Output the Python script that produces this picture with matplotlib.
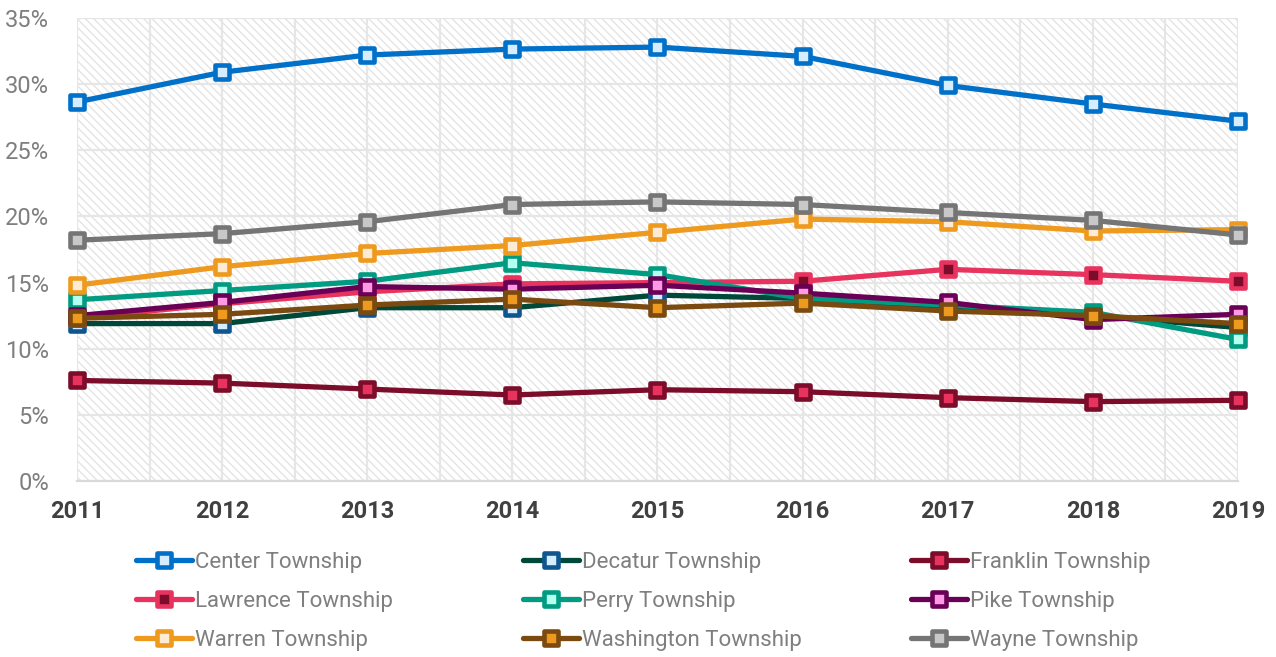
import matplotlib
matplotlib.use("Agg")
import matplotlib.pyplot as plt
from matplotlib.markers import MarkerStyle
from matplotlib.lines import Line2D
from matplotlib.ticker import FuncFormatter, MultipleLocator

# данные
years = ["2011", "2012", "2013", "2014", "2015", "2016", "2017", "2018", "2019"]

center = [28.65, 30.9, 32.2, 32.65, 32.8, 32.1, 29.9, 28.5, 27.2]
decatur = [11.9, 11.9, 13.1, 13.1, 14.05, 13.8, 13.15, 12.5, 11.6]
franklin = [7.6, 7.4, 6.95, 6.5, 6.9, 6.75, 6.3, 6.0, 6.1]
lawrence = [12.3, 13.4, 14.3, 14.9, 15.0, 15.1, 16.0, 15.6, 15.1]
perry = [13.7, 14.4, 15.1, 16.5, 15.6, 13.8, 13.3, 12.75, 10.7]
pike = [12.5, 13.5, 14.7, 14.5, 14.8, 14.2, 13.5, 12.2, 12.6]
warren = [14.8, 16.2, 17.2, 17.8, 18.8, 19.8, 19.6, 18.9, 19.0]
washington = [12.3, 12.6, 13.3, 13.75, 13.1, 13.45, 12.85, 12.5, 11.9]
wayne = [18.2, 18.7, 19.6, 20.9, 21.1, 20.9, 20.3, 19.7, 18.6]

names = ["Center Township", "Decatur Township", "Franklin Township",
         "Lawrence Township", "Perry Township", "Pike Township",
         "Warren Township", "Washington Township", "Wayne Township"]
series = [center, decatur, franklin, lawrence, perry, pike, warren, washington, wayne]

# цвета: линия, край маркера, заливка маркера
line_colors = ["#0070C8", "#00483A", "#7B0C2A", "#E8335E", "#009B80",
               "#6A0055", "#EE9A1E", "#7A4A10", "#757575"]
edge_colors = ["#0070C8", "#0F5690", "#7B0C2A", "#E8335E", "#009B80",
               "#6A0055", "#EE9A1E", "#7A4A10", "#757575"]
fill_colors = ["#D6ECFF", "#D6ECFF", "#E8335E", "#7B0C2A", "#B5FFF0",
               "#FF99E6", "#FDEBD6", "#EE9A1E", "#C8C8C8"]

plt.rcParams['font.family'] = ['Roboto', 'DejaVu Sans']
plt.rcParams['hatch.color'] = '#E2E2E2'
plt.rcParams['hatch.linewidth'] = 0.9

fig = plt.figure(figsize=(12.76, 6.57), dpi=100)
ax = fig.add_axes([77 / 1276, 1 - 481 / 657, (1238 - 77) / 1276, (481 - 18) / 657])

# фон со штриховкой
ax.patch.set_facecolor("white")
ax.patch.set_hatch("\\\\\\\\")
ax.patch.set_edgecolor("#E2E2E2")

x = list(range(len(years)))
marker = MarkerStyle("s", joinstyle="round")
for vals, c, ec, fc in zip(series, line_colors, edge_colors, fill_colors):
    ax.plot(x, vals, color=c, lw=3.8, marker=marker, ms=10.5, mew=3.3,
            mec=ec, mfc=fc, clip_on=False, solid_joinstyle="round")

ax.set_xlim(0, 8)
ax.set_ylim(0, 35)
ax.yaxis.set_major_locator(MultipleLocator(5))
ax.yaxis.set_major_formatter(FuncFormatter(lambda v, p: f"{v:.0f}%"))
ax.set_xticks(x)
ax.set_xticklabels(years)
ax.set_xticks([i + 0.5 for i in x[:-1]], minor=True)

ax.grid(True, which="both", axis="x", color="#E6E6E6", lw=1.6)
ax.grid(True, which="major", axis="y", color="#E6E6E6", lw=1.6)
ax.set_axisbelow(True)
for s in ["top", "right", "left"]:
    ax.spines[s].set_visible(False)
ax.spines["bottom"].set_color("#D9D9D9")
ax.spines["bottom"].set_linewidth(1.6)

ax.tick_params(axis="y", length=0, pad=20, labelsize=17, labelcolor="#7F7F7F")
ax.tick_params(axis="x", which="both", length=0, pad=14, labelsize=17, labelcolor="#404040")
for t in ax.get_xticklabels():
    t.set_fontweight("bold")

# легенда - три колонки
handles = []
for c, ec, fc in zip(line_colors, edge_colors, fill_colors):
    handles.append(Line2D([], [], color=c, lw=3.8, marker=marker, ms=10.5, mew=3.3,
                          mec=ec, mfc=fc, solid_capstyle="round"))

col_x = [136 / 1276, 523 / 1276, 911 / 1276]
for i in range(3):
    idx = [i, i + 3, i + 6]
    fig.legend([handles[j] for j in idx], [names[j] for j in idx],
               loc="upper left", bbox_to_anchor=(col_x[i], 1 - 552 / 657),
               frameon=False, fontsize=16, labelcolor="#7F7F7F",
               handlelength=2.5, handletextpad=0.15, labelspacing=0.8,
               borderaxespad=0, borderpad=0)

fig.savefig("out.png", dpi=100)
